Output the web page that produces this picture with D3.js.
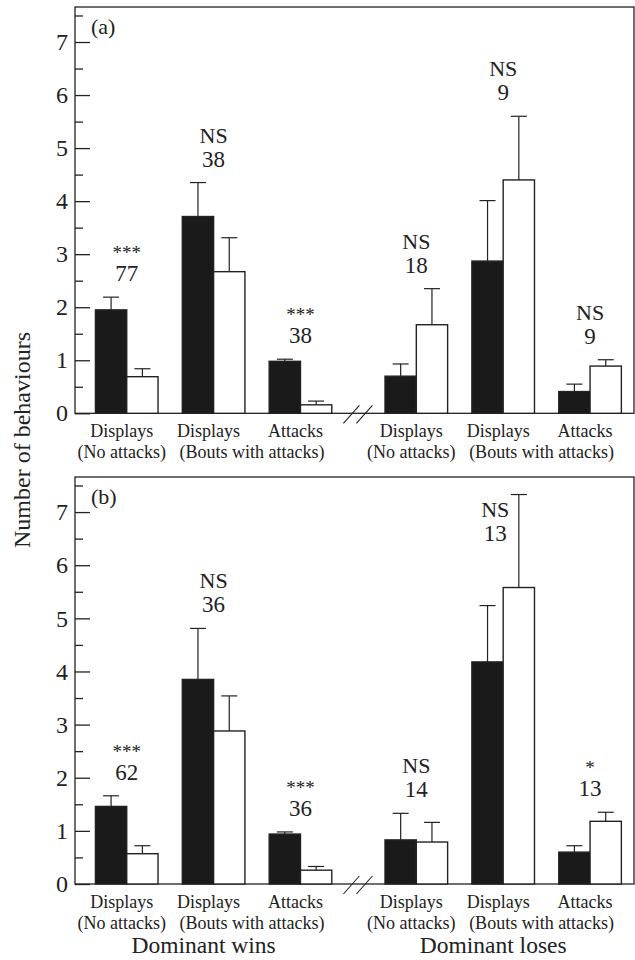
<!DOCTYPE html>
<html>
<head>
<meta charset="utf-8">
<script src="https://cdn.jsdelivr.net/npm/d3@7"></script>
<style>
  body { margin: 0; background: #fff; }
  text { font-family: "Liberation Serif", "DejaVu Serif", serif; fill: #222; }
</style>
</head>
<body>
<svg id="chart" width="635" height="960"></svg>
<script>
////////////////////
//     DATA      ///
////////////////////

// groups, left half = dominant wins, right half = dominant loses
var sides = ["Dominant wins", "Dominant loses"];
var categories = ["Displays", "Displays", "Attacks"];
// second label lines: [first category, last category, text]
var subLabels = [[0, 0, "(No attacks)"], [1, 2, "(Bouts with attacks)"]];
var yTicks = [0, 1, 2, 3, 4, 5, 6, 7];

// panel (a): filled / open bar means and upper error bar ends, 6 groups
var aFilled    = [1.95, 3.71, 0.98, 0.70, 2.87, 0.41];
var aFilledErr = [2.19, 4.35, 1.02, 0.93, 4.01, 0.55];
var aOpen      = [0.69, 2.67, 0.16, 1.67, 4.40, 0.89];
var aOpenErr   = [0.84, 3.31, 0.23, 2.35, 5.60, 1.01];
var aSig       = ["***", "NS", "***", "NS", "NS", "NS"];
var aN         = ["77", "38", "38", "18", "9", "9"];

// panel (b)
var bFilled    = [1.46, 3.85, 0.94, 0.83, 4.18, 0.60];
var bFilledErr = [1.66, 4.81, 0.98, 1.33, 5.24, 0.72];
var bOpen      = [0.57, 2.88, 0.26, 0.79, 5.58, 1.18];
var bOpenErr   = [0.72, 3.54, 0.33, 1.16, 7.33, 1.35];
var bSig       = ["***", "NS", "***", "NS", "NS", "*"];
var bN         = ["62", "36", "36", "14", "13", "13"];

////////////////////
//    OPTIONS    ///
////////////////////
var left = 75, right = 634;
var panels = [
  {label: "(a)", top: 7,   bottom: 413.3, filled: aFilled, filledErr: aFilledErr, open: aOpen, openErr: aOpenErr, sig: aSig, n: aN},
  {label: "(b)", top: 477, bottom: 884,   filled: bFilled, filledErr: bFilledErr, open: bOpen, openErr: bOpenErr, sig: bSig, n: bN}
];
var yMax = 7.66;
var ink = "#222";
var labelShift = -5;   // category labels sit a bit left of the bar pairs

var svg = d3.select("#chart");

// x scales: side band, then category band, then series band
var xSide = d3.scaleBand().domain(sides).range([83.3, 633.5]).paddingInner(0.1);
var xCat = d3.scaleBand().domain(d3.range(categories.length)).range([0, xSide.bandwidth()]);
var xSer = d3.scaleBand().domain(["filled", "open"]).range([-31.3, 31.3]);

var groupCenter = function(i) {
  var s = sides[Math.floor(i / 3)];
  return xSide(s) + xCat(i % 3) + xCat.bandwidth() / 2;
};

panels.forEach(function(p) {
  var y = d3.scaleLinear().domain([0, yMax]).range([p.bottom, p.top]);
  var g = svg.append("g");

  // frame
  g.append("rect")
    .attr("x", left).attr("y", p.top)
    .attr("width", right - left).attr("height", p.bottom - p.top)
    .attr("fill", "none").attr("stroke", ink).attr("stroke-width", 1.3);

  // axis, major ticks inside
  var ax = g.append("g").attr("transform", "translate(" + left + ",0)")
    .call(d3.axisLeft(y).tickValues(yTicks).tickSize(-15).tickPadding(7).tickFormat(d3.format("d")));
  ax.attr("font-family", null);
  ax.select(".domain").remove();
  ax.selectAll("line").attr("stroke", ink).attr("stroke-width", 1.3);
  ax.selectAll("text").attr("font-size", 24).attr("fill", ink);

  var minor = g.append("g").attr("transform", "translate(" + left + ",0)")
    .call(d3.axisLeft(y).tickValues(yTicks.map(function(d) { return d + 0.5; })).tickSize(-8).tickFormat(""));
  minor.select(".domain").remove();
  minor.selectAll("line").attr("stroke", ink).attr("stroke-width", 1.3);

  // panel letter
  g.append("text").attr("x", 91).attr("y", p.top + 27).attr("font-size", 22).text(p.label);

  // bars + error bars
  var rows = d3.range(6).map(function(i) {
    return [
      {i: i, s: "filled", v: p.filled[i], e: p.filledErr[i]},
      {i: i, s: "open", v: p.open[i], e: p.openErr[i]}
    ];
  });
  var bars = g.selectAll(".grp").data(rows).enter().append("g")
    .attr("transform", function(d, i) { return "translate(" + groupCenter(i) + ",0)"; });

  var cell = bars.selectAll(".cell").data(function(d) { return d; }).enter().append("g");
  cell.append("line")
    .attr("x1", function(d) { return xSer(d.s) + xSer.bandwidth() / 2; })
    .attr("x2", function(d) { return xSer(d.s) + xSer.bandwidth() / 2; })
    .attr("y1", function(d) { return y(d.v); })
    .attr("y2", function(d) { return y(d.e); })
    .attr("stroke", ink).attr("stroke-width", 1.2);
  cell.append("line")
    .attr("x1", function(d) { return xSer(d.s) + xSer.bandwidth() / 2 - 8; })
    .attr("x2", function(d) { return xSer(d.s) + xSer.bandwidth() / 2 + 8; })
    .attr("y1", function(d) { return y(d.e); })
    .attr("y2", function(d) { return y(d.e); })
    .attr("stroke", ink).attr("stroke-width", 1.2);
  cell.append("rect")
    .attr("x", function(d) { return xSer(d.s); })
    .attr("y", function(d) { return y(d.v); })
    .attr("width", xSer.bandwidth())
    .attr("height", function(d) { return y(0) - y(d.v); })
    .attr("fill", function(d) { return d.s === "filled" ? "#1a1a1a" : "#fff"; })
    .attr("stroke", ink).attr("stroke-width", 1.4);

  // significance + sample size above the tallest error bar
  d3.range(6).forEach(function(i) {
    var base = y(Math.max(p.filledErr[i], p.openErr[i])) - 16;
    var dx = 0;
    if (base < p.top + 64) { base = p.top + 64; dx = -8; }   // no room: tuck it beside the bar
    var cx = groupCenter(i) + dx;
    var star = p.sig[i] !== "NS";
    g.append("text").attr("x", cx).attr("y", star ? base - 22 : base - 24)
      .attr("text-anchor", "middle").attr("font-size", star ? 19 : 22)
      .text(p.sig[i]);
    g.append("text").attr("x", cx).attr("y", base)
      .attr("text-anchor", "middle").attr("font-size", 23)
      .text(p.n[i]);
  });

  // axis break marks
  var bx = (xSide(sides[0]) + xSide.bandwidth() + xSide(sides[1])) / 2;
  [-7, 6].forEach(function(o) {
    g.append("line")
      .attr("x1", bx + o - 8).attr("y1", p.bottom + 10)
      .attr("x2", bx + o + 8).attr("y2", p.bottom - 8)
      .attr("stroke", ink).attr("stroke-width", 1.1);
  });

  // category labels
  d3.range(6).forEach(function(i) {
    g.append("text").attr("x", groupCenter(i) + labelShift).attr("y", p.bottom + 24)
      .attr("text-anchor", "middle").attr("font-size", 18).text(categories[i % 3]);
  });
  sides.forEach(function(s, k) {
    subLabels.forEach(function(sl) {
      var cx = (groupCenter(k * 3 + sl[0]) + groupCenter(k * 3 + sl[1])) / 2 + labelShift;
      g.append("text").attr("x", cx).attr("y", p.bottom + 45)
        .attr("text-anchor", "middle").attr("font-size", 18).text(sl[2]);
    });
  });
});

// side labels under lower panel
sides.forEach(function(s) {
  svg.append("text").attr("x", xSide(s) + xSide.bandwidth() / 2 - 10).attr("y", 953)
    .attr("text-anchor", "middle").attr("font-size", 23.5).text(s);
});

// y label
svg.append("text")
  .attr("transform", "translate(30,440) rotate(-90)")
  .attr("text-anchor", "middle").attr("font-size", 24)
  .text("Number of behaviours");
</script>
</body>
</html>
